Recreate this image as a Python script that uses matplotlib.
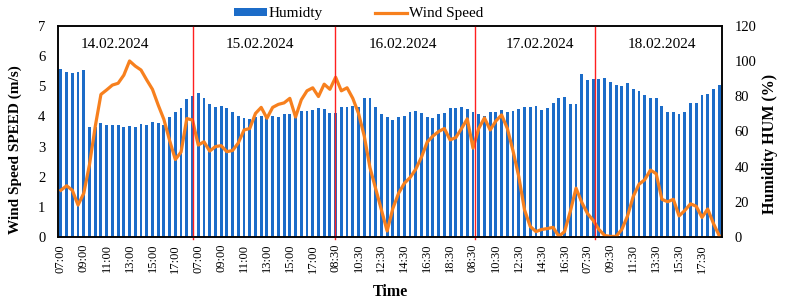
import numpy as np
import matplotlib.pyplot as plt
from matplotlib.transforms import blended_transform_factory

# humidity (%) - one bar per half hour, 5 days back to back
humidity = [
    95.5, 93.7, 93.1, 93.7, 94.8, 62.8, 62.8, 65.0, 63.9, 63.9, 63.9, 62.8,
    63.3, 62.8, 64.3, 63.9, 65.3, 64.7, 63.7, 68.0, 70.9, 73.2, 78.3, 80.4,
    81.7, 78.9, 75.7, 73.8, 74.5, 73.2, 71.3, 69.0, 67.8, 67.1, 68.0, 68.8,
    68.4, 68.8, 68.4, 69.8, 70.0, 68.8, 71.7, 71.7, 72.2, 73.2, 72.6, 70.4,
    70.8, 73.8, 74.2, 74.5, 74.2, 78.9, 78.9, 73.8, 69.8, 68.0, 66.5, 68.4,
    69.0, 70.9, 71.7, 70.4, 68.4, 67.5, 69.8, 70.4, 73.2, 73.2, 73.8, 72.8,
    70.9, 69.8, 69.0, 70.9, 70.9, 72.2, 70.9, 71.7, 72.8, 74.2, 74.2, 74.7,
    72.2, 73.2, 76.0, 78.9, 79.5, 75.5, 75.5, 92.5,
    89.3, 89.9, 89.9, 90.3, 88.4, 86.5, 86.1, 87.4, 84.2, 83.0, 80.8, 78.9,
    78.9, 74.7, 70.9, 70.9, 69.8, 70.9, 76.0, 76.0, 80.8, 81.2, 84.0, 86.5,
]

# wind speed (m/s)
wind_speed = [
    1.55, 1.70, 1.55, 1.06, 1.45, 2.40, 3.66, 4.73, 4.88, 5.04, 5.10, 5.37,
    5.84, 5.67, 5.54, 5.21, 4.90, 4.38, 3.90, 3.20, 2.57, 2.82, 3.93, 3.88,
    3.05, 3.16, 2.85, 3.00, 3.03, 2.83, 2.87, 3.12, 3.55, 3.60, 4.10, 4.30,
    3.94, 4.30, 4.40, 4.45, 4.60, 3.98, 4.55, 4.85, 4.95, 4.66, 5.07, 4.90,
    5.30, 4.85, 4.95, 4.60, 4.10, 3.35, 2.30, 1.60, 0.90, 0.20, 0.95, 1.45,
    1.78, 1.97, 2.25, 2.65, 3.15, 3.35, 3.50, 3.60, 3.22, 3.30, 3.60, 3.92,
    2.95, 3.60, 3.95, 3.55, 3.85, 4.05, 3.60, 2.85, 2.00, 0.90, 0.35, 0.18,
    0.25, 0.28, 0.32, 0.02, 0.18, 0.85, 1.62, 1.15,
    0.78, 0.55, 0.25, 0.05, 0.02, 0.02, 0.25, 0.70, 1.35, 1.75, 1.90, 2.22,
    2.10, 1.25, 1.17, 1.25, 0.70, 0.88, 1.10, 1.02, 0.65, 0.93, 0.45, 0.05,
]

# labels shown every 4th bar
tick_labels = [
    '07:00', '09:00', '11:00', '13:00', '15:00', '17:00',
    '07:00', '09:00', '11:00', '13:00', '15:00', '17:00',
    '08:30', '10:30', '12:30', '14:30', '16:30', '18:30',
    '08:30', '10:30', '12:30', '14:30', '16:30',
    '07:30', '09:30', '11:30', '13:30', '15:30', '17:30',
]

days = ['14.02.2024', '15.02.2024', '16.02.2024', '17.02.2024', '18.02.2024']
day_text_x = [9.5, 34.8, 59.8, 83.7, 105.0]
day_sep_x = [23.0, 47.9, 72.3, 93.3]

plt.rcParams['font.family'] = ['Liberation Serif', 'DejaVu Serif']

x = np.arange(len(humidity))

fig = plt.figure(figsize=(7.85, 3.05), dpi=100)
ax = fig.add_axes([58 / 785, 1 - 237 / 305, 664 / 785, 211 / 305])
ax2 = ax.twinx()

bars = ax2.bar(x, humidity, width=0.5, color='#1c6cc8', label='Humidty')
line, = ax.plot(x, wind_speed, color='#f7801e', lw=2.3, label='Wind Speed',
                solid_joinstyle='round')

# wind line above the bars
ax.set_zorder(ax2.get_zorder() + 1)
ax.patch.set_visible(False)

for xs in day_sep_x:
    ax.axvline(xs, color='#ff2020', lw=1.0, ymin=-0.01, clip_on=False)

trans = blended_transform_factory(ax.transData, ax.transAxes)
for d, xt in zip(days, day_text_x):
    ax.text(xt, 0.912, d, transform=trans, ha='center', va='center', fontsize=11)

ax.set_xlim(-0.5, len(humidity) - 0.5)
ax.set_ylim(0, 7)
ax2.set_ylim(0, 120)
ax.set_yticks(range(0, 8))
ax2.set_yticks(range(0, 121, 20))
ax.set_xticks(x[::4])
ax.set_xticklabels(tick_labels, rotation=90, fontsize=9)
ax.tick_params(axis='y', length=0, pad=9, labelsize=10.5)
ax.tick_params(axis='x', length=0, pad=5)
ax2.tick_params(axis='y', length=0, pad=9, labelsize=10.5)

for a in (ax, ax2):
    for s in a.spines.values():
        s.set_color('black')
        s.set_linewidth(1.1)

fig.text(15 / 785, 1 - 150 / 305, 'Wind Speed SPEED (m/s)', rotation=90,
         ha='center', va='center', fontsize=11, fontweight='bold')
fig.text(770 / 785, 1 - 144 / 305, 'Humidity HUM (%)', rotation=90,
         ha='center', va='center', fontsize=11.5, fontweight='bold')
fig.text(390 / 785, 1 - 292 / 305, 'Time', ha='center', va='center',
         fontsize=11.5, fontweight='bold')

fig.legend([bars, line], ['Humidty', 'Wind Speed'], loc='center',
           bbox_to_anchor=(359 / 785, 1 - 14 / 305), ncol=2, frameon=False,
           fontsize=11, handlelength=2.1, handleheight=0.4, handletextpad=0.15,
           columnspacing=3.4, borderpad=0)

fig.savefig('out.png', dpi=100)
